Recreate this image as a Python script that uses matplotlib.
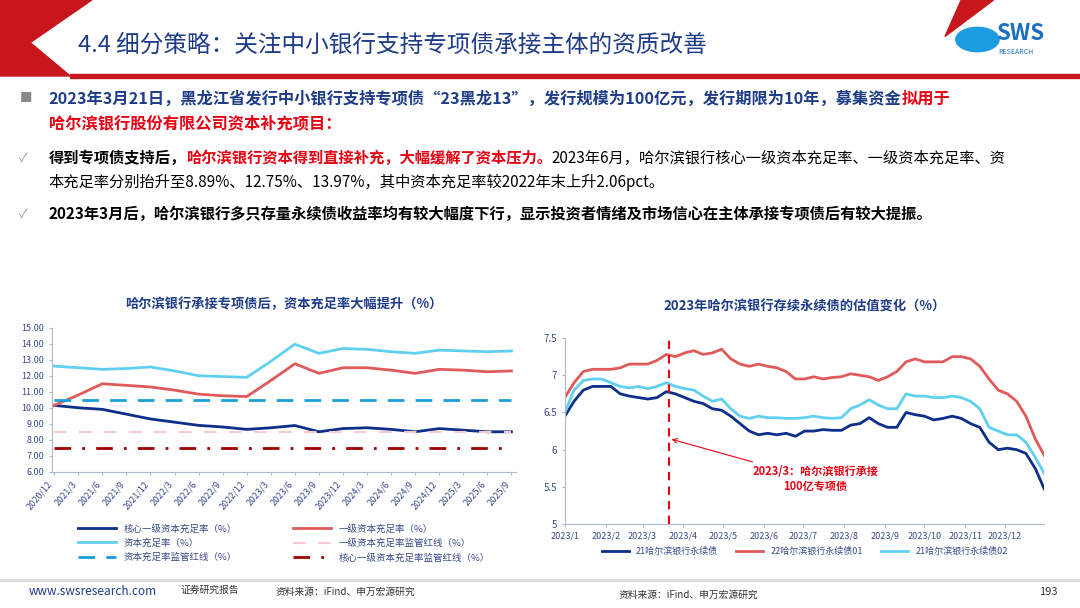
import matplotlib
matplotlib.use("Agg")
import matplotlib.pyplot as plt
import matplotlib.dates as mdates
import matplotlib.patches as mpatches
import pandas as pd

plt.rcParams["font.family"] = ["Noto Sans CJK SC", "DejaVu Sans"]

NAVY = "#1f3c88"
DARK_BLUE = "#0d2f8a"
RED_LINE = "#e05a5a"
LIGHT_BLUE = "#5fd0f0"
MID_BLUE = "#1aa0d8"
PINK = "#f6c9cc"
DARK_RED = "#a00000"
RED = "#e60012"

# left chart data (quarterly)
quarters = ["2020/12", "2021/3", "2021/6", "2021/9", "2021/12", "2022/3", "2022/6", "2022/9",
            "2022/12", "2023/3", "2023/6", "2023/9", "2023/12", "2024/3", "2024/6", "2024/9",
            "2024/12", "2025/3", "2025/6", "2025/9"]
core_tier1 = [10.15, 10.0, 9.9, 9.6, 9.3, 9.1, 8.9, 8.8, 8.65, 8.75, 8.89, 8.5, 8.7, 8.75,
              8.65, 8.5, 8.7, 8.6, 8.5, 8.5]
tier1 = [10.15, 10.8, 11.5, 11.4, 11.3, 11.1, 10.85, 10.75, 10.7, 11.7, 12.75, 12.15, 12.5,
         12.5, 12.35, 12.15, 12.4, 12.35, 12.25, 12.3]
total_car = [12.6, 12.5, 12.4, 12.45, 12.55, 12.3, 12.0, 11.95, 11.9, 12.9, 13.97, 13.4, 13.7,
             13.65, 13.5, 13.4, 13.6, 13.55, 13.5, 13.55]
car_floor = 10.5
tier1_floor = 8.5
core_floor = 7.5

# right chart data (weekly yields, 2023)
weeks = pd.date_range("2023-01-01", periods=53, freq="7D")
bond_21 = [6.45, 6.65, 6.8, 6.85, 6.85, 6.85, 6.75, 6.72, 6.7, 6.68, 6.7, 6.78, 6.75, 6.7, 6.65,
           6.62, 6.55, 6.53, 6.45, 6.35, 6.25, 6.2, 6.22, 6.2, 6.22, 6.18, 6.25, 6.25, 6.27, 6.26,
           6.26, 6.33, 6.35, 6.43, 6.35, 6.3, 6.3, 6.5, 6.47, 6.45, 6.4, 6.42, 6.45, 6.42, 6.35,
           6.3, 6.1, 6.0, 6.02, 6.0, 5.95, 5.75, 5.47]
bond_22_01 = [6.7, 6.9, 7.05, 7.08, 7.08, 7.08, 7.1, 7.15, 7.15, 7.15, 7.2, 7.28, 7.25, 7.3, 7.33,
              7.28, 7.3, 7.35, 7.22, 7.15, 7.12, 7.15, 7.12, 7.1, 7.05, 6.95, 6.95, 6.98, 6.95,
              6.97, 6.98, 7.02, 7.0, 6.98, 6.93, 6.98, 7.05, 7.18, 7.22, 7.18, 7.18, 7.18, 7.25,
              7.25, 7.22, 7.12, 6.95, 6.8, 6.75, 6.65, 6.45, 6.15, 5.92]
bond_21_02 = [6.5, 6.8, 6.93, 6.95, 6.95, 6.9, 6.85, 6.83, 6.85, 6.82, 6.85, 6.9, 6.85, 6.82, 6.8,
              6.72, 6.65, 6.68, 6.55, 6.45, 6.42, 6.45, 6.43, 6.43, 6.42, 6.42, 6.43, 6.45, 6.43,
              6.42, 6.43, 6.55, 6.6, 6.67, 6.6, 6.55, 6.55, 6.75, 6.72, 6.72, 6.7, 6.7, 6.72, 6.7,
              6.65, 6.55, 6.3, 6.25, 6.2, 6.2, 6.1, 5.9, 5.68]

fig = plt.figure(figsize=(10.8, 6.08), dpi=100)
fig.patch.set_facecolor("white")
renderer = fig.canvas.get_renderer()


def text_run(x, y, pieces, size):
    # place coloured/bold pieces one after another on the same line
    for s, color, bold in pieces:
        t = fig.text(x, y, s, fontsize=size, color=color, weight="bold" if bold else "normal",
                     va="center")
        bb = t.get_window_extent(renderer=renderer)
        x += bb.width / fig.bbox.width


# header decorations
fig.patches.append(mpatches.Polygon([[0, 1], [0.085, 1], [0.028, 0.93], [0.065, 0.875], [0, 0.875]],
                                    closed=True, transform=fig.transFigure, color="#c8161d"))
fig.patches.append(mpatches.Polygon([[0.89, 1], [0.92, 1], [0.875, 0.94]], closed=True,
                                    transform=fig.transFigure, color="#c8161d"))
fig.patches.append(mpatches.Rectangle((0.065, 0.872), 0.935, 0.006, transform=fig.transFigure,
                                      color="#c8161d"))
fig.text(0.072, 0.925, "4.4 细分策略：关注中小银行支持专项债承接主体的资质改善", fontsize=17,
         color=NAVY, va="center")
fig.patches.append(mpatches.Circle((0.905, 0.935), 0.02, transform=fig.transFigure,
                                   color="#1b9be0"))
fig.text(0.922, 0.945, "SWS", fontsize=16, color="#1b6fc2", weight="bold", va="center")
fig.text(0.924, 0.915, "RESEARCH", fontsize=5, color="#1b6fc2", va="center")

# bullet text
fig.text(0.018, 0.838, "■", fontsize=9, color="#888888", va="center")
text_run(0.045, 0.838, [("2023年3月21日，黑龙江省发行中小银行支持专项债“23黑龙13”，发行规模为100亿元，发行期限为10年，募集资金", NAVY, True),
                        ("拟用于", RED, True)], 11.7)
text_run(0.045, 0.798, [("哈尔滨银行股份有限公司资本补充项目：", RED, True)], 11.7)
fig.text(0.018, 0.74, "✓", fontsize=9, color="#999999", va="center")
text_run(0.045, 0.74, [("得到专项债支持后，", "black", True),
                       ("哈尔滨银行资本得到直接补充，大幅缓解了资本压力。", RED, True),
                       ("2023年6月，哈尔滨银行核心一级资本充足率、一级资本充足率、资", "black", False)], 11)
text_run(0.045, 0.70, [("本充足率分别抬升至8.89%、12.75%、13.97%，其中资本充足率较2022年末上升2.06pct。", "black", False)], 11)
fig.text(0.018, 0.648, "✓", fontsize=9, color="#999999", va="center")
text_run(0.045, 0.648, [("2023年3月后，哈尔滨银行多只存量永续债收益率均有较大幅度下行，显示投资者情绪及市场信心在主体承接专项债后有较大提振。", "black", True)], 11)

# left chart
ax1 = fig.add_axes([0.048, 0.224, 0.43, 0.237])
x = range(len(quarters))
h_core, = ax1.plot(x, core_tier1, color=DARK_BLUE, lw=2, label="核心一级资本充足率（%）")
h_t1, = ax1.plot(x, tier1, color=RED_LINE, lw=2, label="一级资本充足率（%）")
h_tot, = ax1.plot(x, total_car, color=LIGHT_BLUE, lw=2, label="资本充足率（%）")
h_t1f, = ax1.plot(x, [tier1_floor] * len(quarters), color=PINK, lw=1.5, ls=(0, (6, 6)),
                  label="一级资本充足率监管红线（%）")
h_carf, = ax1.plot(x, [car_floor] * len(quarters), color=MID_BLUE, lw=2, ls=(0, (6, 4)),
                   label="资本充足率监管红线（%）")
h_coref, = ax1.plot(x, [core_floor] * len(quarters), color=DARK_RED, lw=2, ls=(0, (6, 4, 1, 4)),
                    label="核心一级资本充足率监管红线（%）")
ax1.set_ylim(6, 15)
ax1.set_xlim(-0.1, len(quarters) - 0.8)
ax1.set_yticks(range(6, 16))
ax1.set_yticklabels([f"{v:.2f}" for v in range(6, 16)], fontsize=6.5)
ax1.set_xticks(list(x))
ax1.set_xticklabels(quarters, rotation=50, ha="right", fontsize=6.5)
for s in ["top", "right"]:
    ax1.spines[s].set_visible(False)
for s in ["left", "bottom"]:
    ax1.spines[s].set_color("#b0b8d0")
ax1.tick_params(length=2, colors="#b0b8d0", labelcolor="#3a4a8a")
ax1.set_title("哈尔滨银行承接专项债后，资本充足率大幅提升（%）", fontsize=9.5, color=NAVY,
              weight="bold", pad=14)
handles = [h_core, h_tot, h_carf, h_t1, h_t1f, h_coref]
ax1.legend(handles, [h.get_label() for h in handles], loc="upper center",
           bbox_to_anchor=(0.5, -0.3), ncol=2, frameon=False, fontsize=6.8,
           labelcolor="#3a4a8a", columnspacing=6, handlelength=4)

# right chart
ax2 = fig.add_axes([0.523, 0.138, 0.444, 0.306])
ax2.plot(weeks, bond_21, color=DARK_BLUE, lw=2, label="21哈尔滨银行永续债")
ax2.plot(weeks, bond_22_01, color=RED_LINE, lw=2, label="22哈尔滨银行永续债01")
ax2.plot(weeks, bond_21_02, color=LIGHT_BLUE, lw=2, label="21哈尔滨银行永续债02")
event = pd.Timestamp("2023-03-21")
ax2.axvline(event, color=RED, lw=1.5, ls=(0, (4, 3)))
ax2.annotate("2023/3：哈尔滨银行承接\n100亿专项债", xy=(event, 6.15),
             xytext=(pd.Timestamp("2023-07-10"), 5.6), ha="center", va="center", fontsize=8,
             color=RED, weight="bold",
             arrowprops=dict(arrowstyle="->", color=RED, lw=0.8))
ax2.set_ylim(5, 7.5)
ax2.set_xlim(pd.Timestamp("2023-01-01"), pd.Timestamp("2023-12-31"))
ax2.set_yticks([5, 5.5, 6, 6.5, 7, 7.5])
ax2.set_yticklabels(["5", "5.5", "6", "6.5", "7", "7.5"], fontsize=7)
ax2.xaxis.set_major_locator(mdates.MonthLocator())
ax2.xaxis.set_major_formatter(mdates.DateFormatter("%Y/%-m"))
ax2.tick_params(axis="x", labelsize=6.5)
for s in ["top", "right"]:
    ax2.spines[s].set_visible(False)
for s in ["left", "bottom"]:
    ax2.spines[s].set_color("#b0b8d0")
ax2.tick_params(length=2, colors="#b0b8d0", labelcolor="#3a4a8a")
ax2.set_title("2023年哈尔滨银行存续永续债的估值变化（%）", fontsize=9.5, color=NAVY,
              weight="bold", pad=20)
ax2.legend(loc="upper center", bbox_to_anchor=(0.5, -0.08), ncol=3, frameon=False,
           fontsize=6.5, labelcolor="#3a4a8a", handlelength=3)

# footer
fig.patches.append(mpatches.Rectangle((0, 0.045), 1, 0.002, transform=fig.transFigure,
                                      color="#dddddd"))
fig.text(0.027, 0.027, "www.swsresearch.com", fontsize=8.5, color="#1f3c88", va="center")
fig.text(0.167, 0.03, "证券研究报告", fontsize=7, color="#333333", va="center")
fig.text(0.255, 0.027, "资料来源：iFind、申万宏源研究", fontsize=7, color="#333333", va="center")
fig.text(0.573, 0.022, "资料来源：iFind、申万宏源研究", fontsize=7, color="#333333", va="center")
fig.text(0.962, 0.027, "193", fontsize=8, color="#333333", va="center")

fig.savefig("out.png", dpi=100)
